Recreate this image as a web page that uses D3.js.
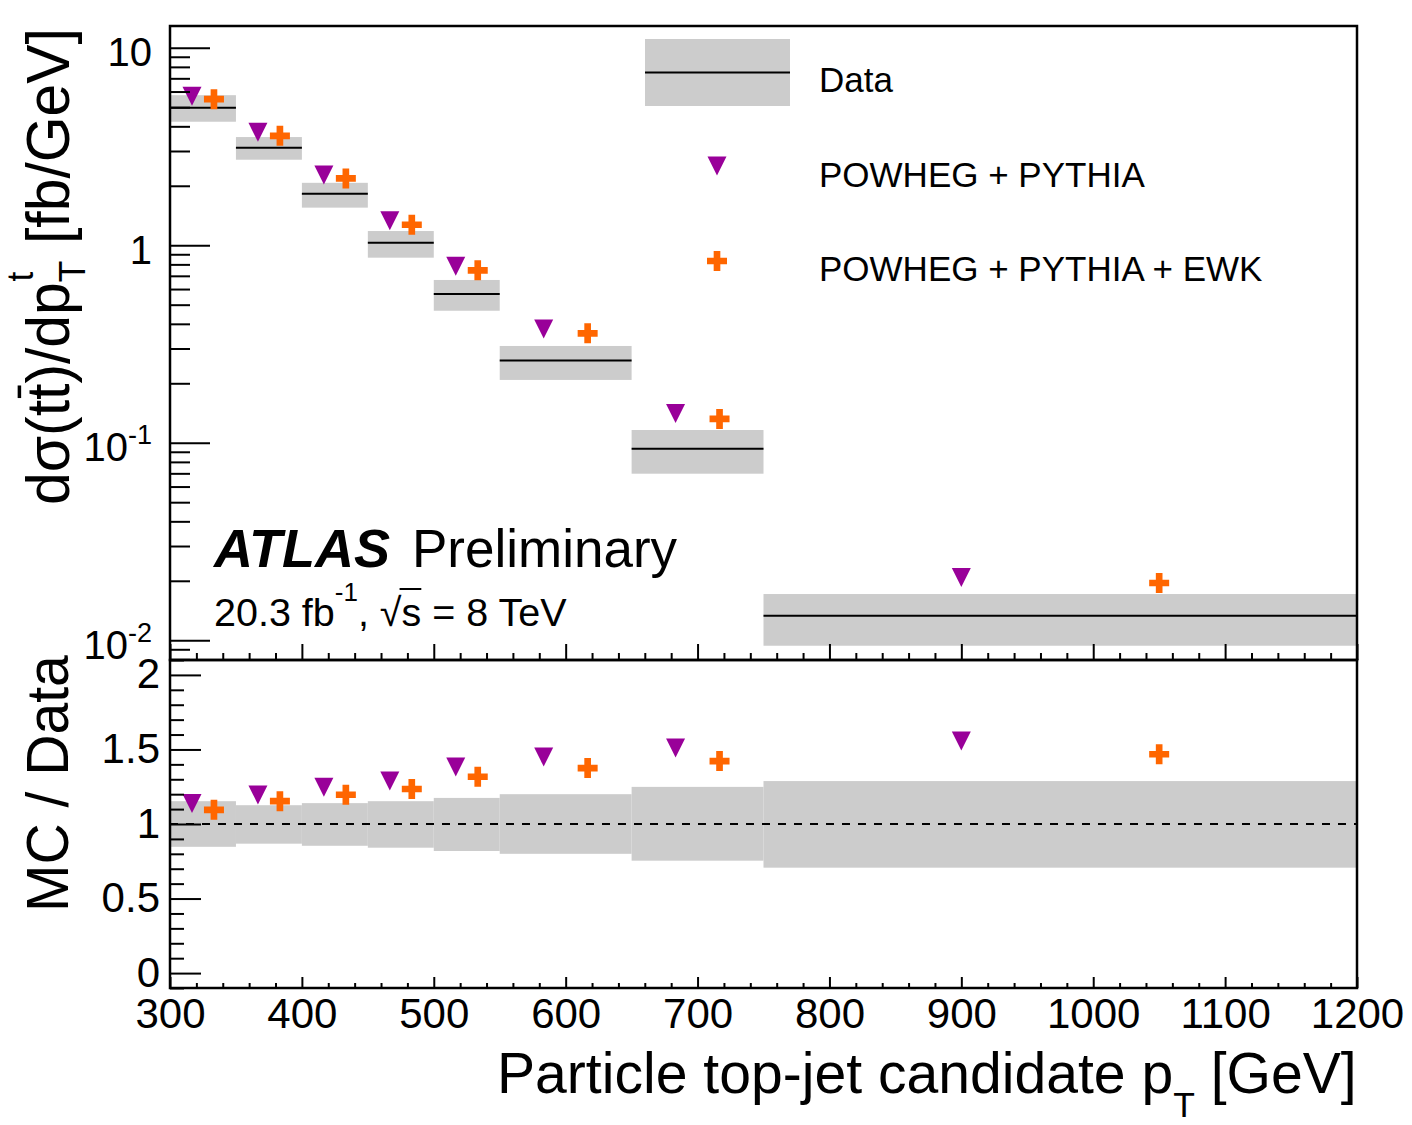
<!DOCTYPE html>
<html><head><meta charset="utf-8">
<script src="https://cdn.jsdelivr.net/npm/d3@7"></script>
<style>
body{margin:0;background:#fff}
svg text{font-family:"Liberation Sans",Arial,Helvetica,sans-serif;fill:#000}
</style>
</head><body>
<svg id="c" width="1412" height="1125"></svg>
<script>
// ---------------- data ----------------
const binEdges = [300, 350, 400, 450, 500, 550, 650, 750, 1200];
const dataVal  = [4.97, 3.12, 1.82, 1.03, 0.566, 0.261, 0.0933, 0.0133];
const dataUp   = [5.75, 3.53, 2.07, 1.18, 0.667, 0.309, 0.116, 0.01714];
const dataDown = [4.22, 2.71, 1.55, 0.865, 0.466, 0.208, 0.0697, 0.00938];
const powhegPythia    = [5.68, 3.73, 2.27, 1.33, 0.783, 0.377, 0.1406, 0.0208];
const powhegPythiaEwk = [5.49, 3.58, 2.18, 1.27, 0.746, 0.358, 0.132, 0.0195];
const ratioPowhegPythia    = [1.137, 1.195, 1.247, 1.289, 1.382, 1.449, 1.509, 1.557];
const ratioPowhegPythiaEwk = [1.095, 1.153, 1.196, 1.235, 1.317, 1.375, 1.422, 1.468];
const ratioBandUp   = [1.153, 1.126, 1.140, 1.153, 1.175, 1.200, 1.249, 1.288];
const ratioBandDown = [0.847, 0.868, 0.854, 0.841, 0.819, 0.800, 0.754, 0.707];
const xMajorTicks = [300, 400, 500, 600, 700, 800, 900, 1000, 1100, 1200];
const xMinorTicks = d3.range(300, 1201, 20);
const yTopMajorTicks = [0.01, 0.1, 1, 10];
const yTopTickBase = ["10", "10", "1", "10"];
const yTopTickSup  = ["-2", "-1", "", ""];
const yRatioMajorTicks = [0, 0.5, 1, 1.5, 2];
const yRatioTickLabels = ["0", "0.5", "1", "1.5", "2"];
const yRatioMinorTicks = d3.range(-0.1, 2.11, 0.1).map(v => Math.round(v * 10) / 10);
const legendLabels = ["Data", "POWHEG + PYTHIA", "POWHEG + PYTHIA + EWK"];

// ---------------- layout ----------------
const X0 = 170, X1 = 1357, T0 = 26, T1 = 660, R1 = 988;
const PURPLE = "#990099", ORANGE = "#ff6600", BAND = "#cccccc";
const svg = d3.select("#c");
const x  = d3.scaleLinear().domain([300, 1200]).range([X0, X1]);
const yT = d3.scaleLog().domain([Math.pow(10, -2.1), Math.pow(10, 1.11)]).range([T1, T0]);
const yR = d3.scaleLinear().domain([-0.1, 2.1]).range([R1, T1]);

const bins = dataVal.map((v, i) => ({
  lo: binEdges[i], hi: binEdges[i + 1], v, up: dataUp[i], dn: dataDown[i],
  mc1: powhegPythia[i], mc2: powhegPythiaEwk[i],
  r1: ratioPowhegPythia[i], r2: ratioPowhegPythiaEwk[i],
  rUp: ratioBandUp[i], rDn: ratioBandDown[i]
}));
const triPath = "M-9.5,-9.5L9.5,-9.5L0,9.5Z";
const crossPath = d3.symbol(d3.symbolCross, 222)();

// ---------------- top panel ----------------
const topG = svg.append("g");
topG.selectAll("rect.band").data(bins).join("rect")
  .attr("x", d => x(d.lo)).attr("width", d => x(d.hi) - x(d.lo))
  .attr("y", d => yT(d.up)).attr("height", d => yT(d.dn) - yT(d.up))
  .attr("fill", BAND);
topG.selectAll("line.data").data(bins).join("line")
  .attr("x1", d => x(d.lo)).attr("x2", d => x(d.hi))
  .attr("y1", d => yT(d.v)).attr("y2", d => yT(d.v))
  .attr("stroke", "#000").attr("stroke-width", 2);
topG.selectAll("path.tri").data(bins).join("path")
  .attr("d", triPath).attr("fill", PURPLE)
  .attr("transform", d => `translate(${x(d.lo + (d.hi - d.lo) / 3)},${yT(d.mc1)})`);
topG.selectAll("path.crs").data(bins).join("path")
  .attr("d", crossPath).attr("fill", ORANGE)
  .attr("transform", d => `translate(${x(d.lo + 2 * (d.hi - d.lo) / 3)},${yT(d.mc2)})`);

// ---------------- ratio panel ----------------
const ratG = svg.append("g");
ratG.selectAll("rect").data(bins).join("rect")
  .attr("x", d => x(d.lo)).attr("width", d => x(d.hi) - x(d.lo))
  .attr("y", d => yR(d.rUp)).attr("height", d => yR(d.rDn) - yR(d.rUp))
  .attr("fill", BAND);
ratG.append("line").attr("x1", X0).attr("x2", X1).attr("y1", yR(1)).attr("y2", yR(1))
  .attr("stroke", "#000").attr("stroke-width", 2).attr("stroke-dasharray", "8,8");
ratG.selectAll("path.tri").data(bins).join("path")
  .attr("d", triPath).attr("fill", PURPLE)
  .attr("transform", d => `translate(${x(d.lo + (d.hi - d.lo) / 3)},${yR(d.r1)})`);
ratG.selectAll("path.crs").data(bins).join("path")
  .attr("d", crossPath).attr("fill", ORANGE)
  .attr("transform", d => `translate(${x(d.lo + 2 * (d.hi - d.lo) / 3)},${yR(d.r2)})`);

// ---------------- axes ----------------
function styleAxis(g) {
  g.select(".domain").remove();
  g.selectAll(".tick line").attr("stroke", "#000").attr("stroke-width", 2);
  g.attr("font-family", null).attr("font-size", null);
}
svg.append("g").attr("transform", `translate(${X0},0)`)
  .call(d3.axisLeft(yT).tickValues(yT.ticks().filter(v => yTopMajorTicks.indexOf(v) < 0))
    .tickSizeInner(-20).tickSizeOuter(0).tickFormat(""))
  .call(styleAxis);
const gyT = svg.append("g").attr("transform", `translate(${X0},0)`)
  .call(d3.axisLeft(yT).tickValues(yTopMajorTicks).tickSizeInner(-40).tickSizeOuter(0).tickPadding(20))
  .call(styleAxis);
gyT.selectAll(".tick text").each(function(d, i) {
  const t = d3.select(this).text(null).attr("font-size", 40).attr("dy", null).attr("y", 18).attr("x", -18);
  t.append("tspan").text(yTopTickBase[i]);
  if (yTopTickSup[i]) t.append("tspan").attr("font-size", 27).attr("dy", -17).text(yTopTickSup[i]);
});
svg.append("g").attr("transform", `translate(0,${T1})`)
  .call(d3.axisBottom(x).tickValues(xMinorTicks.filter(v => xMajorTicks.indexOf(v) < 0)).tickSizeInner(-7).tickSizeOuter(0).tickFormat(""))
  .call(styleAxis);
svg.append("g").attr("transform", `translate(0,${T1})`)
  .call(d3.axisBottom(x).tickValues(xMajorTicks).tickSizeInner(-16).tickSizeOuter(0).tickFormat(""))
  .call(styleAxis);
svg.append("g").attr("transform", `translate(${X0},0)`)
  .call(d3.axisLeft(yR).tickValues(yRatioMinorTicks.filter(v => yRatioMajorTicks.indexOf(v) < 0)).tickSizeInner(-14).tickSizeOuter(0).tickFormat(""))
  .call(styleAxis);
const gyR = svg.append("g").attr("transform", `translate(${X0},0)`)
  .call(d3.axisLeft(yR).tickValues(yRatioMajorTicks).tickSizeInner(-31).tickSizeOuter(0).tickPadding(10)
    .tickFormat((d, i) => yRatioTickLabels[i]))
  .call(styleAxis);
gyR.selectAll(".tick text").attr("font-size", 42).attr("dy", null).attr("y", 13);
svg.append("g").attr("transform", `translate(0,${R1})`)
  .call(d3.axisBottom(x).tickValues(xMinorTicks.filter(v => xMajorTicks.indexOf(v) < 0)).tickSizeInner(-5).tickSizeOuter(0).tickFormat(""))
  .call(styleAxis);
const gxR = svg.append("g").attr("transform", `translate(0,${R1})`)
  .call(d3.axisBottom(x).tickValues(xMajorTicks).tickSizeInner(-11).tickSizeOuter(0).tickPadding(10).tickFormat(d3.format("d")))
  .call(styleAxis);
gxR.selectAll(".tick text").attr("font-size", 42);

svg.append("rect").attr("x", X0).attr("y", T0).attr("width", X1 - X0).attr("height", T1 - T0)
  .attr("fill", "none").attr("stroke", "#000").attr("stroke-width", 2.5);
svg.append("rect").attr("x", X0).attr("y", T1).attr("width", X1 - X0).attr("height", R1 - T1)
  .attr("fill", "none").attr("stroke", "#000").attr("stroke-width", 2.5);

// ---------------- titles ----------------
const ytG = svg.append("g");
const yt = ytG.append("text").attr("x", 0).attr("y", 0).attr("font-size", 62);
yt.append("tspan").text("dσ(tt)/dp");
yt.append("tspan").attr("font-size", 37).attr("dy", 16).text("T");
yt.append("tspan").attr("font-size", 37).attr("dy", -52).attr("dx", -22).text("t");
yt.append("tspan").attr("dy", 36).attr("dx", 12).text(" [fb/GeV]");
{
  const r = yt.node().getExtentOfChar(4);
  ytG.append("line").attr("x1", r.x + 2).attr("x2", r.x + r.width - 2)
    .attr("y1", -0.80 * 62).attr("y2", -0.80 * 62)
    .attr("stroke", "#000").attr("stroke-width", 3.5);
  const bb = yt.node().getBBox();
  const s = (505 - 28) / bb.width;
  ytG.attr("transform", `translate(69,${505 + bb.x * s}) rotate(-90) scale(${s},1)`);
}
{
  const g = svg.append("g");
  const t = g.append("text").attr("font-size", 59).text("MC / Data");
  const bb = t.node().getBBox();
  const s = (912 - 655) / bb.width;
  g.attr("transform", `translate(68,${912 + bb.x * s}) rotate(-90) scale(${s},1)`);
}
{
  const g = svg.append("g");
  const t = g.append("text").attr("font-size", 58);
  t.append("tspan").text("Particle top-jet candidate p");
  t.append("tspan").attr("font-size", 36).attr("dy", 24).text("T");
  t.append("tspan").attr("dy", -24).text(" [GeV]");
  const bb = t.node().getBBox();
  const s = (1357 - 497) / bb.width;
  g.attr("transform", `translate(${497 - bb.x * s},1093) scale(${s},1)`);
}

const atl = svg.append("text").attr("x", 214).attr("y", 567).attr("font-size", 53);
atl.append("tspan").attr("font-weight", "bold").attr("font-style", "italic").attr("font-size", 54).text("ATLAS");
atl.append("tspan").attr("x", 412).text("Preliminary");
const lumi = svg.append("text").attr("x", 214).attr("y", 626).attr("font-size", 39.5);
lumi.append("tspan").text("20.3 fb");
lumi.append("tspan").attr("font-size", 26).attr("dy", -25).text("-1");
lumi.append("tspan").attr("dy", 25).text(", √s = 8 TeV");
{
  const full = lumi.node().textContent;
  const iRoot = full.indexOf("√"), iS = iRoot + 1;
  const r1 = lumi.node().getExtentOfChar(iRoot), r2 = lumi.node().getExtentOfChar(iS);
  svg.append("line").attr("x1", r1.x + r1.width - 2).attr("x2", r2.x + r2.width)
    .attr("y1", 626 - 37).attr("y2", 626 - 37).attr("stroke", "#000").attr("stroke-width", 2);
}

// ---------------- legend ----------------
const leg = svg.append("g");
leg.append("rect").attr("x", 645).attr("y", 39).attr("width", 145).attr("height", 67).attr("fill", BAND);
leg.append("line").attr("x1", 645).attr("x2", 790).attr("y1", 72.5).attr("y2", 72.5).attr("stroke", "#000").attr("stroke-width", 2);
leg.append("path").attr("d", triPath).attr("fill", PURPLE).attr("transform", "translate(717,166)");
leg.append("path").attr("d", crossPath).attr("fill", ORANGE).attr("transform", "translate(717,261)");
leg.selectAll("text").data(legendLabels).join("text")
  .attr("x", 819).attr("y", (d, i) => [92, 187, 281][i]).attr("font-size", 35).text(d => d);
</script>
</body></html>
